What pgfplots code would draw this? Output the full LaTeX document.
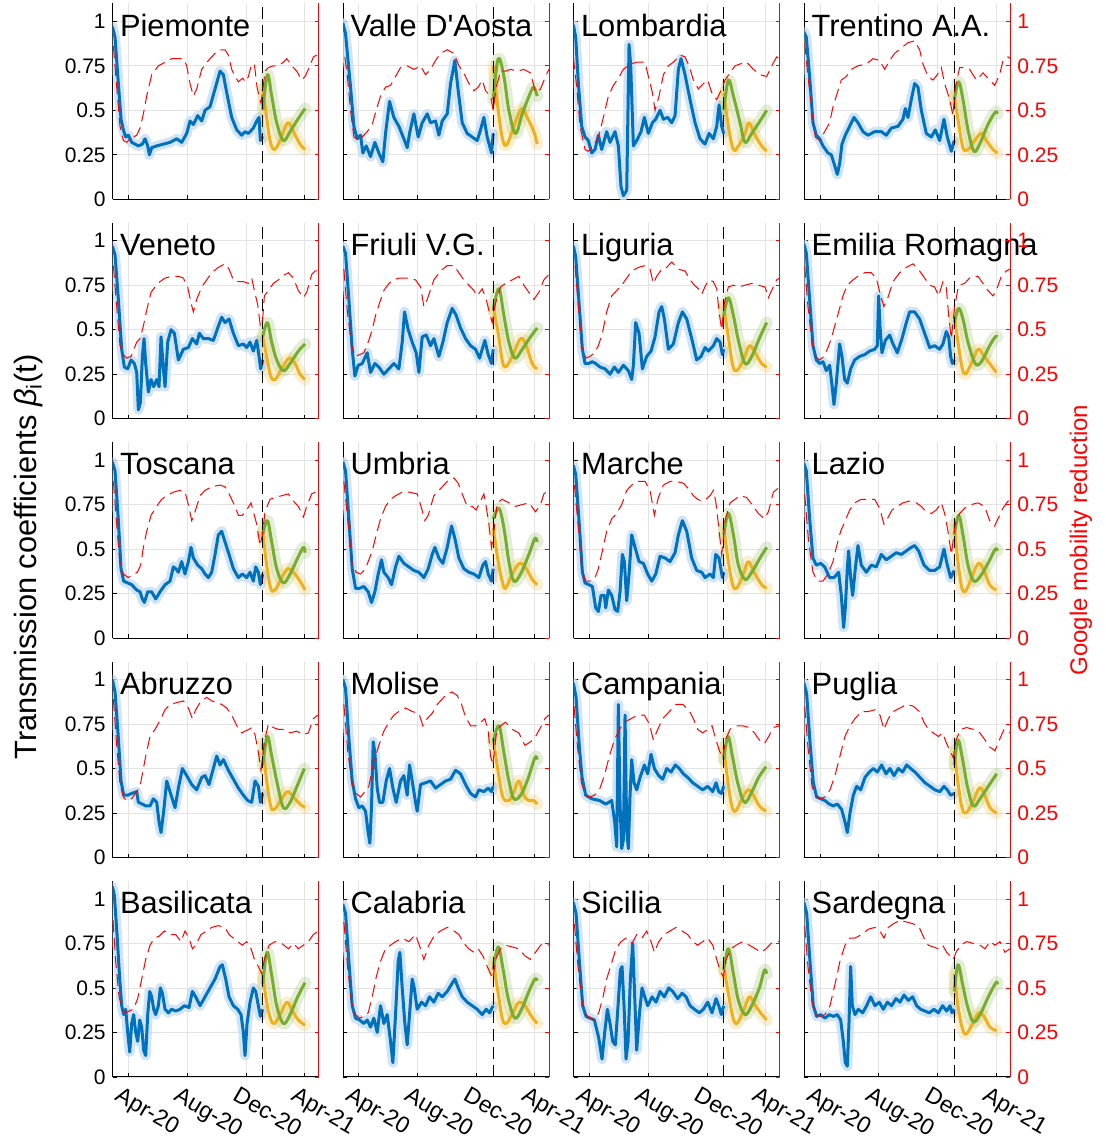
\documentclass[border=0pt]{standalone}
\usepackage{fontspec}
\setmainfont{Liberation Sans}
\usepackage{pgfplots}
\pgfplotsset{compat=1.18}
\definecolor{mblue}{rgb}{0,0.447,0.741}
\definecolor{mgreen}{rgb}{0.466,0.674,0.188}
\definecolor{myellow}{rgb}{0.929,0.694,0.125}
\definecolor{mband}{rgb}{0.79,0.875,0.955}
\newcommand{\ticksize}{\fontsize{10.5}{12}\selectfont}
\newcommand{\titlesize}{\fontsize{15.4}{18}\selectfont}
\pgfplotsset{
  panel/.style={scale only axis, width=103pt, height=97.9pt, anchor=south west,
    xmin=23, xmax=641, ymin=0, ymax=1.1,
    axis x line*=bottom, axis y line*=left,
    xtick={70,246.5,423,598}, ytick={0,0.25,0.5,0.75,1},
    xticklabels={}, yticklabels={},
    grid=major, major grid style={gray!22, line width=0.4pt},
    tick align=inside, major tick length=2pt,
    tick style={black, line width=0.4pt},
    axis line style={black, line width=0.5pt},
    tick label style={font=\ticksize},
    clip mode=individual},
  rpanel/.style={scale only axis, width=103pt, height=97.9pt, anchor=south west,
    xmin=23, xmax=641, ymin=0, ymax=1.1,
    axis y line*=right, axis x line=none, xtick=\empty,
    ytick={0,0.25,0.5,0.75,1}, yticklabels={},
    tick align=inside, major tick length=2pt,
    ytick style={red, line width=0.4pt},
    axis line style={red, line width=0.5pt},
    tick label style={font=\ticksize},
    clip mode=individual},
  ylab/.style={yticklabels={0,0.25,0.5,0.75,1}},
  xlab/.style={xticklabels={Apr-20,Aug-20,Dec-20,Apr-21},
    xticklabel style={rotate=-30, anchor=north west, xshift=-4pt, yshift=-2pt, font=\fontsize{11.5}{13}\selectfont}},
  rlab/.style={yticklabels={0,0.25,0.5,0.75,1}, yticklabel style={red}},
}
% #1 position, #2 name, #3 beta, #4 green, #5 yellow, #6 mobility, #7 left opts, #8 right opts
\newcommand{\panel}[8]{%
\begin{axis}[panel, at={(#1)}, #7]
\addplot[mband, line width=5pt, line join=round, line cap=round, opacity=0.85] coordinates {#3};
\addplot[mgreen, line width=6pt, line join=round, line cap=round, opacity=0.2, smooth, tension=0.6] coordinates {#4};
\addplot[myellow, line width=6pt, line join=round, line cap=round, opacity=0.2, smooth, tension=0.6] coordinates {#5};
\addplot[mblue, line width=1.5pt, line join=round] coordinates {#3};
\addplot[myellow, line width=1.5pt, line join=round, smooth, tension=0.6] coordinates {#5};
\addplot[mgreen, line width=1.5pt, line join=round, smooth, tension=0.6] coordinates {#4};
\addplot[black, line width=0.6pt, dash pattern=on 6pt off 3pt] coordinates {(473,0) (473,1.1)};
\node[anchor=base west, inner sep=0pt, font=\titlesize] at (axis cs:44,0.917) {#2};
\end{axis}
\begin{axis}[rpanel, at={(#1)}, #8]
\addplot[red, line width=0.5pt, dash pattern=on 6pt off 3pt] coordinates {#6};
\end{axis}}

\begin{document}
\begin{tikzpicture}
\useasboundingbox (0,0) rectangle (553pt,-569.5pt);

% ---------------- Row 1
\panel{56.35pt,-99.65pt}{Piemonte}
{(22,0.97)(30,0.91)(40,0.65)(48,0.45)(55,0.39)(62,0.35)(70,0.36)(80,0.32)(90,0.31)(100,0.30)(112,0.31)(120,0.34)(128,0.30)(133,0.25)(140,0.29)(155,0.30)(175,0.31)(195,0.32)(215,0.34)(230,0.32)(245,0.37)(255,0.44)(265,0.42)(278,0.47)(290,0.44)(300,0.50)(315,0.52)(330,0.62)(345,0.72)(355,0.70)(365,0.60)(380,0.46)(395,0.39)(410,0.36)(420,0.38)(430,0.37)(445,0.40)(455,0.44)(462,0.46)(466,0.33)(470,0.35)(473,0.34)}
{(473,0.50)(487,0.70)(500,0.58)(515,0.43)(535,0.33)(555,0.38)(575,0.44)(600,0.51)}
{(473,0.62)(482,0.50)(495,0.33)(508,0.28)(525,0.33)(548,0.43)(565,0.38)(585,0.31)(600,0.28)}
{(25,0.86)(35,0.63)(45,0.41)(55,0.33)(65,0.32)(75,0.34)(95,0.36)(105,0.40)(115,0.48)(125,0.58)(140,0.70)(160,0.75)(180,0.77)(200,0.79)(220,0.79)(235,0.79)(245,0.75)(255,0.65)(265,0.58)(275,0.62)(290,0.73)(310,0.78)(330,0.82)(345,0.84)(360,0.84)(370,0.81)(380,0.73)(390,0.69)(400,0.66)(412,0.68)(422,0.66)(430,0.69)(440,0.76)(448,0.76)(456,0.63)(462,0.58)(468,0.54)(475,0.64)(480,0.72)(490,0.74)(505,0.75)(520,0.75)(535,0.77)(545,0.79)(560,0.75)(575,0.72)(590,0.67)(600,0.69)(615,0.75)(625,0.80)(635,0.81)}
{ylab}{}

\panel{171.6pt,-99.65pt}{Valle D\textquotesingle Aosta}
{(22,0.99)(30,0.93)(45,0.63)(55,0.41)(65,0.34)(75,0.36)(82,0.26)(92,0.30)(105,0.24)(118,0.32)(130,0.26)(142,0.21)(150,0.37)(162,0.55)(175,0.46)(190,0.41)(205,0.34)(215,0.29)(222,0.37)(235,0.48)(248,0.35)(260,0.43)(275,0.48)(285,0.43)(300,0.44)(310,0.36)(320,0.44)(335,0.48)(345,0.65)(358,0.78)(368,0.61)(380,0.43)(395,0.37)(410,0.35)(425,0.33)(435,0.39)(445,0.46)(455,0.35)(468,0.26)(473,0.37)}
{(473,0.56)(488,0.79)(505,0.69)(520,0.50)(540,0.37)(560,0.48)(585,0.60)(595,0.63)(605,0.58)}
{(473,0.75)(488,0.50)(502,0.33)(515,0.31)(535,0.41)(558,0.51)(575,0.46)(595,0.38)(605,0.31)}
{(28,0.80)(35,0.70)(45,0.50)(55,0.35)(70,0.33)(80,0.35)(95,0.38)(110,0.42)(122,0.50)(135,0.58)(150,0.63)(165,0.64)(180,0.69)(195,0.74)(215,0.75)(235,0.73)(255,0.75)(270,0.70)(285,0.73)(300,0.78)(315,0.82)(335,0.84)(355,0.82)(370,0.75)(385,0.71)(400,0.65)(415,0.61)(428,0.63)(440,0.67)(450,0.61)(465,0.58)(473,0.50)(482,0.63)(495,0.72)(510,0.72)(525,0.73)(545,0.72)(565,0.73)(585,0.71)(600,0.60)(615,0.62)(630,0.69)(640,0.73)}
{}{}

\panel{286.85pt,-99.65pt}{Lombardia}
{(22,0.98)(29,0.91)(37,0.65)(47,0.41)(57,0.35)(67,0.33)(77,0.26)(87,0.28)(97,0.36)(107,0.28)(122,0.38)(132,0.32)(147,0.38)(157,0.30)(165,0.07)(172,0.02)(182,0.05)(189,0.87)(194,0.75)(202,0.30)(212,0.33)(225,0.38)(235,0.46)(247,0.37)(259,0.43)(269,0.45)(282,0.50)(292,0.45)(305,0.46)(317,0.43)(327,0.47)(337,0.73)(345,0.79)(357,0.70)(372,0.56)(387,0.43)(402,0.34)(417,0.31)(429,0.37)(442,0.34)(452,0.41)(459,0.53)(467,0.41)(473,0.37)}
{(473,0.50)(487,0.67)(502,0.58)(522,0.43)(537,0.32)(557,0.37)(582,0.44)(602,0.50)}
{(473,0.60)(487,0.41)(502,0.28)(517,0.30)(537,0.37)(549,0.43)(567,0.36)(587,0.30)(602,0.27)}
{(22,0.80)(32,0.63)(42,0.41)(57,0.28)(67,0.27)(82,0.30)(97,0.35)(112,0.46)(127,0.58)(142,0.64)(157,0.68)(172,0.73)(192,0.76)(212,0.77)(237,0.77)(247,0.69)(259,0.60)(267,0.50)(279,0.58)(292,0.70)(307,0.75)(322,0.77)(342,0.81)(357,0.80)(369,0.75)(382,0.67)(397,0.62)(412,0.65)(425,0.67)(437,0.60)(452,0.56)(467,0.62)(477,0.67)(492,0.71)(507,0.75)(522,0.76)(542,0.77)(562,0.73)(582,0.70)(602,0.69)(617,0.75)(632,0.80)(640,0.79)}
{}{}

\panel{402.15pt,-99.65pt}{Trentino A.A.}
{(22,0.94)(29,0.91)(39,0.69)(49,0.43)(59,0.36)(69,0.34)(79,0.30)(94,0.26)(104,0.25)(114,0.19)(122,0.14)(129,0.20)(136,0.31)(146,0.36)(159,0.41)(172,0.46)(184,0.43)(199,0.38)(214,0.36)(234,0.38)(254,0.38)(269,0.36)(284,0.40)(304,0.41)(319,0.45)(326,0.51)(334,0.46)(344,0.56)(354,0.65)(364,0.63)(374,0.50)(389,0.37)(404,0.35)(416,0.39)(429,0.33)(442,0.45)(452,0.35)(464,0.27)(473,0.33)}
{(473,0.56)(486,0.66)(499,0.56)(514,0.39)(532,0.27)(549,0.31)(574,0.42)(596,0.49)(602,0.48)}
{(473,0.58)(484,0.45)(499,0.29)(514,0.28)(534,0.33)(554,0.37)(569,0.33)(589,0.28)(602,0.26)}
{(24,0.88)(34,0.69)(46,0.50)(56,0.35)(69,0.33)(84,0.38)(99,0.43)(109,0.52)(119,0.58)(134,0.67)(149,0.69)(164,0.73)(184,0.75)(209,0.76)(229,0.79)(249,0.78)(264,0.73)(279,0.78)(294,0.82)(314,0.85)(334,0.88)(354,0.89)(369,0.84)(379,0.76)(394,0.69)(409,0.67)(422,0.70)(434,0.74)(444,0.65)(459,0.56)(469,0.47)(476,0.63)(489,0.74)(504,0.74)(519,0.73)(539,0.67)(559,0.71)(579,0.67)(594,0.64)(609,0.70)(619,0.78)(634,0.80)(641,0.79)}
{}{rlab}

% ---------------- Row 2
\panel{56.35pt,-209.35pt}{Veneto}
{(22,0.97)(30,0.92)(40,0.67)(50,0.39)(58,0.29)(68,0.28)(78,0.33)(88,0.31)(95,0.26)(100,0.05)(106,0.09)(112,0.35)(117,0.45)(122,0.31)(130,0.15)(138,0.22)(146,0.18)(155,0.22)(162,0.18)(168,0.46)(175,0.28)(180,0.18)(188,0.43)(198,0.50)(208,0.48)(220,0.33)(235,0.39)(250,0.40)(262,0.45)(275,0.42)(283,0.48)(295,0.45)(310,0.45)(325,0.44)(340,0.52)(350,0.57)(360,0.54)(372,0.56)(385,0.48)(400,0.41)(415,0.42)(425,0.40)(435,0.43)(445,0.38)(455,0.44)(462,0.35)(467,0.28)(473,0.33)}
{(473,0.46)(487,0.54)(500,0.43)(515,0.33)(535,0.27)(555,0.31)(580,0.38)(600,0.42)}
{(473,0.46)(485,0.35)(497,0.24)(510,0.22)(530,0.28)(552,0.34)(570,0.31)(585,0.25)(600,0.22)}
{(25,0.86)(35,0.63)(45,0.41)(55,0.36)(65,0.34)(78,0.35)(95,0.43)(105,0.45)(115,0.52)(125,0.61)(138,0.71)(150,0.74)(165,0.77)(180,0.79)(200,0.80)(220,0.80)(235,0.79)(248,0.74)(258,0.65)(265,0.60)(275,0.67)(290,0.74)(305,0.78)(320,0.82)(340,0.85)(360,0.87)(372,0.84)(385,0.78)(400,0.77)(415,0.77)(430,0.76)(440,0.79)(448,0.72)(458,0.64)(466,0.52)(473,0.56)(478,0.69)(490,0.72)(505,0.76)(520,0.78)(540,0.81)(550,0.82)(565,0.79)(580,0.72)(595,0.68)(605,0.71)(620,0.81)(630,0.83)(640,0.83)}
{ylab}{}

\panel{171.6pt,-209.35pt}{Friuli V.G.}
{(22,0.97)(30,0.93)(40,0.67)(50,0.39)(58,0.24)(68,0.30)(80,0.31)(95,0.37)(105,0.26)(118,0.31)(130,0.29)(145,0.25)(160,0.28)(175,0.31)(190,0.28)(200,0.43)(207,0.60)(218,0.50)(230,0.43)(242,0.37)(250,0.26)(260,0.46)(272,0.47)(285,0.41)(295,0.45)(310,0.35)(322,0.43)(335,0.54)(350,0.62)(362,0.58)(375,0.51)(390,0.45)(405,0.41)(420,0.39)(432,0.34)(448,0.44)(458,0.36)(468,0.31)(473,0.39)}
{(473,0.61)(490,0.73)(505,0.58)(520,0.43)(538,0.34)(560,0.39)(585,0.46)(605,0.51)}
{(473,0.63)(488,0.48)(500,0.33)(510,0.29)(530,0.35)(555,0.45)(572,0.41)(590,0.31)(605,0.28)}
{(25,0.84)(35,0.61)(48,0.41)(60,0.35)(72,0.36)(85,0.37)(100,0.44)(110,0.50)(120,0.58)(132,0.65)(145,0.72)(160,0.76)(175,0.78)(190,0.79)(215,0.79)(240,0.78)(255,0.74)(265,0.63)(275,0.67)(295,0.78)(315,0.83)(335,0.86)(355,0.86)(370,0.82)(385,0.78)(400,0.75)(415,0.72)(425,0.69)(440,0.73)(452,0.67)(460,0.61)(470,0.54)(480,0.65)(495,0.74)(510,0.76)(530,0.78)(550,0.80)(565,0.75)(580,0.71)(595,0.67)(610,0.71)(625,0.78)(640,0.81)}
{}{}

\panel{286.85pt,-209.35pt}{Liguria}
{(22,0.97)(29,0.91)(39,0.65)(49,0.39)(57,0.31)(67,0.31)(79,0.32)(89,0.31)(102,0.29)(117,0.28)(132,0.25)(145,0.29)(157,0.26)(172,0.30)(187,0.27)(197,0.22)(202,0.30)(209,0.54)(219,0.48)(229,0.28)(242,0.35)(255,0.38)(267,0.46)(279,0.60)(287,0.63)(295,0.56)(307,0.39)(322,0.42)(337,0.54)(349,0.60)(362,0.56)(377,0.45)(392,0.33)(405,0.35)(417,0.40)(427,0.38)(442,0.41)(452,0.45)(462,0.43)(469,0.36)(473,0.39)}
{(473,0.58)(487,0.68)(502,0.58)(517,0.44)(537,0.31)(557,0.35)(582,0.46)(602,0.54)}
{(473,0.63)(487,0.46)(500,0.30)(512,0.27)(532,0.33)(550,0.41)(567,0.37)(587,0.31)(602,0.29)}
{(27,0.86)(37,0.63)(47,0.41)(59,0.34)(72,0.35)(85,0.37)(97,0.41)(109,0.48)(122,0.60)(137,0.69)(152,0.72)(167,0.75)(182,0.79)(197,0.83)(217,0.85)(237,0.86)(252,0.84)(262,0.76)(272,0.80)(287,0.84)(302,0.85)(317,0.88)(337,0.84)(357,0.83)(372,0.78)(385,0.75)(397,0.73)(407,0.70)(419,0.75)(429,0.78)(442,0.77)(452,0.73)(459,0.60)(467,0.50)(475,0.65)(487,0.74)(502,0.75)(517,0.74)(537,0.75)(557,0.76)(577,0.75)(597,0.74)(607,0.68)(619,0.73)(632,0.78)(641,0.79)}
{}{}

\panel{402.15pt,-209.35pt}{Emilia Romagna}
{(22,0.98)(29,0.93)(39,0.67)(49,0.41)(59,0.33)(69,0.31)(79,0.32)(89,0.27)(99,0.30)(106,0.19)(112,0.08)(119,0.20)(129,0.42)(136,0.35)(144,0.22)(152,0.20)(162,0.28)(174,0.33)(189,0.35)(204,0.36)(219,0.38)(234,0.39)(242,0.41)(246,0.69)(250,0.52)(256,0.37)(266,0.44)(279,0.47)(289,0.42)(302,0.37)(316,0.45)(329,0.54)(339,0.60)(354,0.60)(369,0.56)(384,0.48)(399,0.40)(414,0.41)(429,0.39)(439,0.42)(449,0.49)(456,0.46)(462,0.35)(467,0.31)(473,0.33)}
{(473,0.54)(486,0.62)(499,0.56)(514,0.43)(536,0.31)(554,0.32)(579,0.41)(596,0.46)(602,0.46)}
{(473,0.58)(484,0.43)(496,0.29)(506,0.25)(524,0.31)(544,0.39)(559,0.36)(579,0.31)(599,0.26)}
{(24,0.86)(34,0.63)(46,0.43)(56,0.35)(69,0.33)(82,0.35)(94,0.40)(104,0.45)(114,0.52)(126,0.60)(139,0.69)(152,0.75)(169,0.78)(184,0.80)(204,0.82)(224,0.82)(239,0.79)(252,0.69)(262,0.63)(272,0.67)(289,0.77)(309,0.82)(329,0.85)(349,0.87)(369,0.83)(384,0.79)(399,0.75)(414,0.74)(426,0.69)(439,0.77)(449,0.74)(456,0.58)(464,0.45)(474,0.63)(486,0.75)(504,0.76)(524,0.80)(544,0.80)(559,0.76)(574,0.72)(589,0.69)(599,0.72)(614,0.80)(629,0.83)(640,0.84)}
{}{rlab}

% ---------------- Row 3
\panel{56.35pt,-319.05pt}{Toscana}
{(22,0.99)(30,0.94)(40,0.66)(48,0.39)(56,0.32)(68,0.31)(80,0.30)(95,0.27)(105,0.26)(112,0.22)(118,0.20)(128,0.26)(140,0.26)(152,0.22)(165,0.26)(180,0.30)(195,0.32)(205,0.40)(212,0.39)(220,0.37)(230,0.43)(240,0.36)(250,0.43)(258,0.51)(265,0.45)(278,0.41)(290,0.39)(300,0.36)(310,0.34)(320,0.37)(330,0.47)(340,0.58)(350,0.60)(360,0.54)(372,0.47)(385,0.39)(400,0.34)(412,0.36)(425,0.34)(435,0.37)(445,0.32)(452,0.40)(460,0.37)(466,0.30)(473,0.36)}
{(473,0.58)(487,0.66)(500,0.54)(515,0.39)(535,0.31)(555,0.36)(578,0.45)(595,0.51)(600,0.48)}
{(473,0.60)(485,0.41)(497,0.28)(510,0.27)(530,0.34)(548,0.39)(565,0.37)(585,0.32)(600,0.27)}
{(25,0.88)(35,0.64)(45,0.41)(55,0.36)(70,0.34)(85,0.36)(97,0.37)(107,0.41)(115,0.51)(125,0.60)(138,0.69)(155,0.74)(170,0.78)(185,0.80)(205,0.82)(225,0.83)(240,0.82)(250,0.75)(260,0.66)(270,0.71)(285,0.80)(300,0.83)(320,0.85)(345,0.86)(360,0.85)(375,0.80)(390,0.74)(400,0.69)(412,0.69)(425,0.72)(438,0.76)(445,0.71)(455,0.64)(465,0.52)(472,0.58)(480,0.71)(495,0.78)(510,0.79)(530,0.80)(550,0.81)(565,0.77)(580,0.74)(595,0.68)(605,0.74)(620,0.81)(640,0.83)}
{ylab}{}

\panel{171.6pt,-319.05pt}{Umbria}
{(22,0.99)(30,0.94)(40,0.67)(50,0.39)(60,0.28)(72,0.28)(85,0.29)(98,0.26)(108,0.20)(118,0.26)(128,0.36)(138,0.44)(145,0.37)(158,0.34)(168,0.30)(180,0.40)(190,0.46)(205,0.42)(220,0.40)(235,0.38)(250,0.37)(265,0.34)(278,0.39)(290,0.47)(298,0.51)(310,0.45)(322,0.42)(335,0.51)(348,0.63)(358,0.56)(370,0.45)(385,0.39)(400,0.37)(415,0.36)(430,0.34)(442,0.41)(450,0.43)(458,0.36)(468,0.32)(473,0.39)}
{(473,0.67)(490,0.73)(505,0.62)(520,0.43)(535,0.32)(555,0.36)(580,0.47)(598,0.56)(605,0.54)}
{(473,0.62)(488,0.43)(500,0.32)(510,0.28)(530,0.36)(552,0.42)(572,0.39)(590,0.33)(605,0.30)}
{(25,0.88)(38,0.64)(50,0.41)(62,0.37)(75,0.36)(90,0.39)(100,0.44)(110,0.49)(122,0.58)(135,0.67)(150,0.74)(165,0.78)(180,0.80)(200,0.82)(222,0.82)(245,0.81)(258,0.73)(268,0.66)(278,0.69)(295,0.80)(315,0.84)(335,0.88)(355,0.90)(368,0.87)(380,0.81)(395,0.74)(410,0.74)(422,0.72)(435,0.77)(445,0.81)(452,0.74)(460,0.64)(468,0.51)(475,0.60)(485,0.76)(500,0.78)(520,0.76)(540,0.74)(560,0.75)(580,0.76)(600,0.71)(615,0.75)(625,0.81)(640,0.83)}
{}{}

\panel{286.85pt,-319.05pt}{Marche}
{(22,0.97)(29,0.92)(39,0.66)(49,0.37)(57,0.31)(69,0.30)(79,0.29)(89,0.17)(97,0.15)(105,0.24)(115,0.24)(119,0.17)(127,0.27)(137,0.24)(147,0.16)(155,0.15)(162,0.26)(169,0.47)(175,0.43)(182,0.21)(189,0.36)(197,0.58)(207,0.51)(219,0.43)(232,0.42)(245,0.36)(257,0.32)(269,0.36)(282,0.46)(297,0.45)(312,0.43)(327,0.48)(337,0.58)(349,0.66)(362,0.60)(377,0.45)(392,0.38)(407,0.37)(417,0.34)(432,0.36)(442,0.34)(449,0.47)(459,0.45)(469,0.34)(473,0.37)}
{(473,0.58)(487,0.70)(502,0.58)(517,0.41)(537,0.33)(557,0.37)(582,0.45)(602,0.51)}
{(473,0.62)(487,0.43)(500,0.30)(512,0.28)(532,0.36)(547,0.43)(564,0.37)(587,0.30)(602,0.28)}
{(25,0.86)(37,0.62)(47,0.39)(59,0.32)(72,0.32)(87,0.34)(97,0.39)(109,0.49)(122,0.60)(137,0.67)(152,0.70)(167,0.75)(182,0.83)(197,0.86)(217,0.88)(237,0.88)(252,0.83)(265,0.69)(277,0.79)(292,0.86)(312,0.88)(332,0.88)(352,0.87)(367,0.84)(382,0.80)(395,0.78)(407,0.77)(419,0.78)(432,0.80)(442,0.83)(449,0.77)(457,0.64)(467,0.47)(477,0.66)(492,0.76)(507,0.78)(522,0.80)(542,0.79)(562,0.74)(577,0.70)(595,0.67)(607,0.71)(622,0.82)(635,0.84)(641,0.84)}
{}{}

\panel{402.15pt,-319.05pt}{Lazio}
{(22,0.98)(29,0.94)(39,0.67)(49,0.45)(59,0.41)(72,0.42)(84,0.40)(99,0.34)(112,0.34)(126,0.37)(134,0.24)(141,0.06)(146,0.17)(152,0.39)(156,0.49)(162,0.34)(168,0.24)(176,0.39)(184,0.52)(194,0.41)(209,0.37)(224,0.41)(239,0.40)(254,0.47)(269,0.44)(284,0.46)(299,0.48)(314,0.47)(329,0.49)(344,0.51)(354,0.52)(366,0.49)(382,0.41)(399,0.38)(414,0.38)(429,0.40)(442,0.50)(452,0.41)(462,0.34)(473,0.38)}
{(473,0.58)(486,0.69)(499,0.58)(514,0.41)(532,0.32)(552,0.35)(574,0.42)(596,0.50)(602,0.49)}
{(473,0.64)(484,0.43)(496,0.28)(509,0.27)(529,0.36)(546,0.42)(562,0.38)(579,0.30)(599,0.27)}
{(24,0.81)(36,0.54)(49,0.37)(62,0.32)(79,0.32)(94,0.36)(109,0.43)(119,0.51)(132,0.60)(146,0.66)(159,0.72)(174,0.76)(194,0.78)(214,0.78)(234,0.78)(249,0.73)(262,0.64)(272,0.67)(286,0.72)(302,0.74)(319,0.76)(339,0.77)(359,0.76)(374,0.74)(389,0.71)(404,0.70)(419,0.72)(434,0.76)(444,0.70)(454,0.60)(464,0.47)(476,0.64)(489,0.70)(504,0.73)(524,0.75)(544,0.76)(564,0.74)(579,0.66)(594,0.63)(604,0.67)(619,0.73)(634,0.77)(641,0.77)}
{}{rlab}

% ---------------- Row 4
\panel{56.35pt,-428.75pt}{Abruzzo}
{(22,1.00)(30,0.93)(40,0.67)(48,0.43)(56,0.35)(68,0.35)(80,0.36)(95,0.37)(100,0.31)(112,0.30)(122,0.29)(135,0.29)(145,0.33)(155,0.31)(162,0.20)(168,0.14)(176,0.26)(185,0.43)(195,0.37)(210,0.28)(220,0.39)(232,0.50)(245,0.46)(260,0.41)(275,0.38)(290,0.45)(300,0.46)(312,0.41)(322,0.48)(335,0.57)(345,0.52)(355,0.55)(370,0.49)(385,0.44)(400,0.39)(415,0.35)(428,0.32)(440,0.31)(450,0.43)(460,0.40)(466,0.31)(473,0.36)}
{(473,0.52)(487,0.68)(500,0.57)(515,0.43)(535,0.28)(555,0.31)(578,0.41)(598,0.50)}
{(473,0.64)(485,0.43)(497,0.29)(508,0.27)(530,0.33)(548,0.37)(565,0.34)(585,0.30)(600,0.28)}
{(25,0.89)(35,0.63)(45,0.41)(55,0.34)(65,0.32)(80,0.33)(95,0.37)(105,0.40)(112,0.47)(122,0.57)(135,0.68)(150,0.72)(165,0.77)(180,0.83)(195,0.86)(215,0.87)(235,0.88)(250,0.84)(262,0.78)(272,0.83)(285,0.87)(305,0.90)(320,0.88)(335,0.87)(350,0.86)(365,0.84)(380,0.80)(398,0.73)(410,0.70)(420,0.71)(432,0.72)(440,0.73)(450,0.69)(460,0.59)(468,0.49)(478,0.65)(490,0.75)(505,0.73)(520,0.72)(540,0.72)(555,0.70)(575,0.71)(595,0.69)(610,0.70)(625,0.78)(638,0.80)}
{ylab}{}

\panel{171.6pt,-428.75pt}{Molise}
{(22,1.00)(30,0.95)(40,0.67)(50,0.43)(60,0.33)(70,0.28)(80,0.29)(90,0.26)(98,0.14)(103,0.08)(108,0.29)(113,0.65)(118,0.59)(125,0.39)(132,0.31)(142,0.31)(152,0.43)(162,0.50)(172,0.39)(182,0.31)(195,0.43)(205,0.46)(215,0.35)(222,0.52)(230,0.43)(240,0.31)(245,0.26)(255,0.41)(270,0.42)(285,0.43)(300,0.39)(315,0.41)(330,0.43)(345,0.44)(360,0.49)(375,0.47)(390,0.41)(405,0.36)(420,0.34)(430,0.38)(445,0.37)(458,0.39)(468,0.37)(473,0.40)}
{(473,0.65)(490,0.74)(505,0.59)(520,0.43)(535,0.33)(555,0.35)(575,0.43)(598,0.56)(605,0.55)}
{(473,0.67)(488,0.48)(502,0.34)(520,0.32)(535,0.37)(550,0.43)(565,0.35)(580,0.32)(595,0.32)(605,0.30)}
{(25,0.86)(37,0.59)(50,0.41)(62,0.36)(75,0.34)(88,0.37)(100,0.40)(115,0.54)(130,0.63)(145,0.71)(160,0.76)(175,0.80)(190,0.82)(210,0.84)(230,0.82)(250,0.81)(262,0.74)(275,0.78)(290,0.81)(305,0.86)(320,0.89)(335,0.92)(350,0.93)(365,0.91)(378,0.86)(390,0.79)(405,0.74)(420,0.74)(435,0.76)(448,0.78)(458,0.71)(465,0.57)(472,0.52)(482,0.69)(495,0.74)(510,0.76)(530,0.72)(550,0.70)(568,0.63)(585,0.65)(600,0.68)(615,0.73)(628,0.78)(640,0.80)}
{}{}

\panel{286.85pt,-428.75pt}{Campania}
{(22,0.98)(30,0.90)(40,0.62)(48,0.45)(59,0.35)(77,0.33)(101,0.32)(119,0.30)(137,0.32)(146,0.20)(152,0.06)(157,0.86)(162,0.30)(167,0.05)(172,0.10)(177,0.80)(182,0.15)(187,0.05)(192,0.35)(197,0.55)(204,0.42)(212,0.38)(222,0.45)(235,0.52)(245,0.47)(255,0.58)(265,0.50)(278,0.46)(290,0.44)(302,0.50)(315,0.48)(328,0.52)(340,0.50)(352,0.47)(365,0.45)(380,0.42)(395,0.40)(410,0.38)(425,0.40)(440,0.37)(450,0.42)(458,0.37)(466,0.36)(473,0.40)}
{(473,0.55)(486,0.68)(500,0.56)(515,0.42)(535,0.31)(555,0.36)(578,0.45)(600,0.51)}
{(473,0.62)(484,0.45)(496,0.30)(508,0.26)(528,0.33)(546,0.38)(562,0.35)(580,0.29)(600,0.26)}
{(24,0.85)(34,0.63)(46,0.42)(58,0.35)(72,0.34)(85,0.35)(100,0.38)(115,0.46)(130,0.57)(145,0.66)(160,0.72)(175,0.76)(195,0.78)(215,0.80)(235,0.80)(250,0.75)(262,0.66)(275,0.72)(290,0.78)(310,0.82)(330,0.86)(350,0.86)(368,0.83)(382,0.78)(395,0.72)(410,0.70)(425,0.72)(438,0.74)(450,0.66)(460,0.60)(470,0.56)(478,0.66)(492,0.72)(510,0.74)(530,0.74)(550,0.73)(565,0.70)(580,0.66)(595,0.64)(608,0.68)(622,0.73)(640,0.74)}
{}{}

\panel{402.15pt,-428.75pt}{Puglia}
{(22,0.98)(30,0.92)(40,0.65)(50,0.42)(60,0.34)(72,0.33)(85,0.32)(98,0.30)(110,0.29)(122,0.30)(135,0.27)(145,0.20)(152,0.14)(160,0.25)(170,0.35)(180,0.40)(192,0.38)(205,0.45)(218,0.48)(230,0.50)(242,0.48)(255,0.52)(268,0.47)(280,0.50)(292,0.46)(305,0.50)(318,0.48)(330,0.52)(342,0.50)(355,0.48)(370,0.45)(385,0.42)(400,0.40)(415,0.38)(430,0.37)(442,0.40)(452,0.38)(462,0.35)(473,0.36)}
{(473,0.52)(484,0.66)(498,0.55)(512,0.40)(530,0.29)(550,0.33)(575,0.40)(600,0.47)}
{(473,0.60)(484,0.42)(496,0.28)(508,0.25)(528,0.31)(548,0.39)(562,0.36)(580,0.28)(600,0.25)}
{(24,0.85)(34,0.62)(46,0.40)(58,0.34)(72,0.33)(85,0.34)(100,0.38)(115,0.46)(130,0.57)(145,0.68)(160,0.74)(175,0.78)(195,0.82)(215,0.82)(235,0.83)(250,0.80)(262,0.72)(275,0.78)(290,0.82)(310,0.84)(330,0.86)(350,0.85)(368,0.82)(382,0.76)(395,0.72)(410,0.70)(425,0.68)(438,0.70)(450,0.64)(460,0.60)(470,0.56)(478,0.66)(492,0.72)(510,0.73)(530,0.72)(550,0.70)(565,0.66)(580,0.62)(595,0.60)(608,0.66)(622,0.72)(640,0.70)}
{}{rlab}

% ---------------- Row 5
\panel{56.35pt,-538.45pt}{Basilicata}
{(22,1.07)(28,1.02)(36,0.80)(44,0.55)(50,0.40)(56,0.35)(62,0.38)(68,0.25)(74,0.14)(80,0.30)(86,0.35)(92,0.25)(98,0.20)(104,0.32)(110,0.28)(116,0.15)(122,0.12)(128,0.35)(134,0.48)(140,0.45)(146,0.38)(152,0.35)(160,0.40)(166,0.50)(172,0.47)(180,0.38)(190,0.36)(200,0.38)(212,0.37)(225,0.38)(238,0.40)(252,0.39)(262,0.48)(272,0.45)(285,0.40)(300,0.45)(315,0.50)(330,0.55)(345,0.62)(352,0.63)(362,0.55)(372,0.45)(385,0.40)(398,0.38)(408,0.35)(415,0.25)(420,0.12)(426,0.30)(435,0.42)(445,0.50)(452,0.48)(460,0.40)(466,0.34)(473,0.38)}
{(473,0.52)(486,0.70)(500,0.57)(515,0.40)(535,0.30)(555,0.35)(578,0.45)(600,0.53)}
{(473,0.58)(484,0.43)(496,0.33)(508,0.30)(528,0.36)(546,0.42)(562,0.37)(580,0.32)(600,0.29)}
{(24,0.88)(32,0.65)(42,0.45)(52,0.38)(62,0.36)(72,0.37)(85,0.38)(98,0.44)(110,0.55)(122,0.66)(135,0.74)(148,0.78)(162,0.79)(178,0.82)(195,0.80)(212,0.80)(228,0.76)(240,0.82)(252,0.78)(262,0.72)(272,0.74)(288,0.80)(305,0.82)(320,0.84)(340,0.85)(360,0.84)(372,0.80)(385,0.78)(398,0.76)(412,0.74)(425,0.76)(438,0.72)(450,0.65)(460,0.62)(470,0.58)(478,0.66)(492,0.74)(510,0.76)(530,0.75)(550,0.72)(565,0.75)(580,0.72)(595,0.74)(610,0.76)(625,0.80)(640,0.82)}
{ylab,xlab}{}

\panel{171.6pt,-538.45pt}{Calabria}
{(22,0.97)(30,0.92)(40,0.65)(50,0.40)(60,0.33)(72,0.32)(85,0.30)(95,0.32)(105,0.28)(115,0.33)(125,0.25)(135,0.40)(145,0.30)(155,0.35)(165,0.20)(172,0.08)(180,0.35)(188,0.65)(193,0.70)(200,0.50)(208,0.30)(215,0.18)(222,0.35)(230,0.55)(236,0.50)(245,0.38)(258,0.42)(270,0.40)(282,0.45)(295,0.42)(308,0.47)(320,0.45)(335,0.48)(348,0.52)(358,0.55)(368,0.50)(380,0.45)(395,0.42)(410,0.40)(425,0.38)(440,0.35)(452,0.38)(462,0.36)(473,0.40)}
{(473,0.60)(488,0.73)(503,0.60)(518,0.44)(538,0.33)(558,0.38)(580,0.48)(598,0.55)(605,0.54)}
{(473,0.65)(488,0.47)(500,0.33)(512,0.30)(532,0.36)(550,0.42)(568,0.40)(588,0.34)(605,0.30)}
{(25,0.87)(36,0.62)(48,0.42)(60,0.35)(72,0.33)(85,0.34)(98,0.36)(110,0.45)(122,0.56)(135,0.65)(150,0.72)(165,0.74)(180,0.76)(200,0.78)(220,0.76)(240,0.80)(255,0.72)(265,0.66)(280,0.74)(298,0.80)(315,0.82)(335,0.84)(355,0.82)(370,0.80)(385,0.75)(400,0.72)(415,0.70)(428,0.72)(442,0.68)(455,0.62)(465,0.58)(472,0.55)(480,0.66)(495,0.72)(510,0.74)(530,0.73)(550,0.72)(568,0.68)(585,0.66)(600,0.70)(615,0.74)(630,0.75)(640,0.74)}
{xlab}{}

\panel{286.85pt,-538.45pt}{Sicilia}
{(22,0.98)(30,0.92)(40,0.65)(50,0.40)(60,0.34)(72,0.33)(85,0.32)(98,0.22)(108,0.10)(116,0.25)(124,0.38)(132,0.30)(140,0.20)(148,0.18)(156,0.40)(163,0.60)(168,0.62)(174,0.40)(180,0.10)(186,0.20)(193,0.55)(200,0.75)(206,0.45)(212,0.15)(220,0.35)(228,0.50)(236,0.45)(245,0.40)(258,0.45)(270,0.42)(282,0.48)(295,0.45)(308,0.50)(320,0.48)(335,0.44)(348,0.47)(360,0.45)(372,0.40)(385,0.38)(400,0.36)(412,0.38)(425,0.42)(438,0.36)(450,0.44)(458,0.40)(466,0.35)(473,0.40)}
{(473,0.60)(487,0.72)(502,0.58)(517,0.43)(537,0.35)(557,0.40)(580,0.50)(595,0.60)(602,0.58)}
{(473,0.62)(487,0.47)(500,0.34)(512,0.30)(532,0.37)(550,0.45)(568,0.40)(588,0.35)(602,0.32)}
{(25,0.86)(36,0.62)(48,0.42)(60,0.35)(72,0.33)(85,0.32)(98,0.36)(110,0.44)(122,0.55)(135,0.63)(150,0.72)(165,0.76)(180,0.78)(198,0.75)(212,0.80)(228,0.78)(242,0.82)(255,0.76)(265,0.70)(278,0.76)(295,0.80)(312,0.82)(330,0.84)(348,0.82)(365,0.80)(380,0.76)(395,0.74)(410,0.76)(425,0.78)(440,0.74)(452,0.66)(462,0.60)(472,0.56)(480,0.66)(495,0.72)(510,0.74)(530,0.76)(550,0.74)(568,0.72)(585,0.70)(600,0.72)(615,0.75)(630,0.76)(640,0.76)}
{xlab}{}

\panel{402.15pt,-538.45pt}{Sardegna}
{(22,0.98)(30,0.92)(40,0.65)(50,0.40)(60,0.34)(72,0.35)(85,0.33)(98,0.35)(110,0.34)(122,0.35)(132,0.32)(140,0.20)(146,0.08)(152,0.06)(157,0.30)(162,0.62)(167,0.40)(175,0.35)(185,0.38)(198,0.36)(210,0.40)(222,0.45)(235,0.40)(248,0.42)(260,0.38)(272,0.42)(285,0.40)(298,0.44)(310,0.42)(322,0.46)(335,0.43)(348,0.45)(360,0.40)(372,0.38)(385,0.37)(398,0.36)(412,0.38)(425,0.36)(438,0.40)(450,0.37)(460,0.40)(466,0.36)(473,0.38)}
{(473,0.48)(484,0.63)(498,0.52)(512,0.40)(530,0.31)(550,0.35)(575,0.45)(598,0.53)(602,0.52)}
{(473,0.58)(484,0.40)(496,0.28)(508,0.24)(528,0.30)(546,0.36)(562,0.34)(580,0.28)(600,0.26)}
{(24,0.85)(34,0.62)(46,0.42)(58,0.35)(72,0.34)(85,0.35)(100,0.40)(115,0.52)(130,0.65)(145,0.74)(160,0.78)(175,0.78)(195,0.80)(215,0.83)(235,0.84)(250,0.82)(262,0.78)(275,0.84)(290,0.86)(310,0.88)(330,0.87)(350,0.86)(368,0.84)(382,0.78)(395,0.74)(410,0.73)(425,0.72)(438,0.74)(450,0.70)(460,0.68)(470,0.66)(478,0.70)(492,0.74)(510,0.76)(530,0.75)(550,0.74)(565,0.72)(580,0.76)(595,0.74)(610,0.76)(625,0.70)(640,0.72)}
{xlab}{rlab}

% ---------------- labels
\node[rotate=90, anchor=base west, inner sep=0pt, font=\titlesize] at (18pt,-380pt)
  {Transmission coefficients {\itshape β}\textsubscript{i}(t)};
\node[rotate=90, anchor=base, inner sep=0pt, text=red, font=\fontsize{12}{14}\selectfont] at (543.5pt,-270pt)
  {Google mobility reduction};
\end{tikzpicture}
\end{document}
